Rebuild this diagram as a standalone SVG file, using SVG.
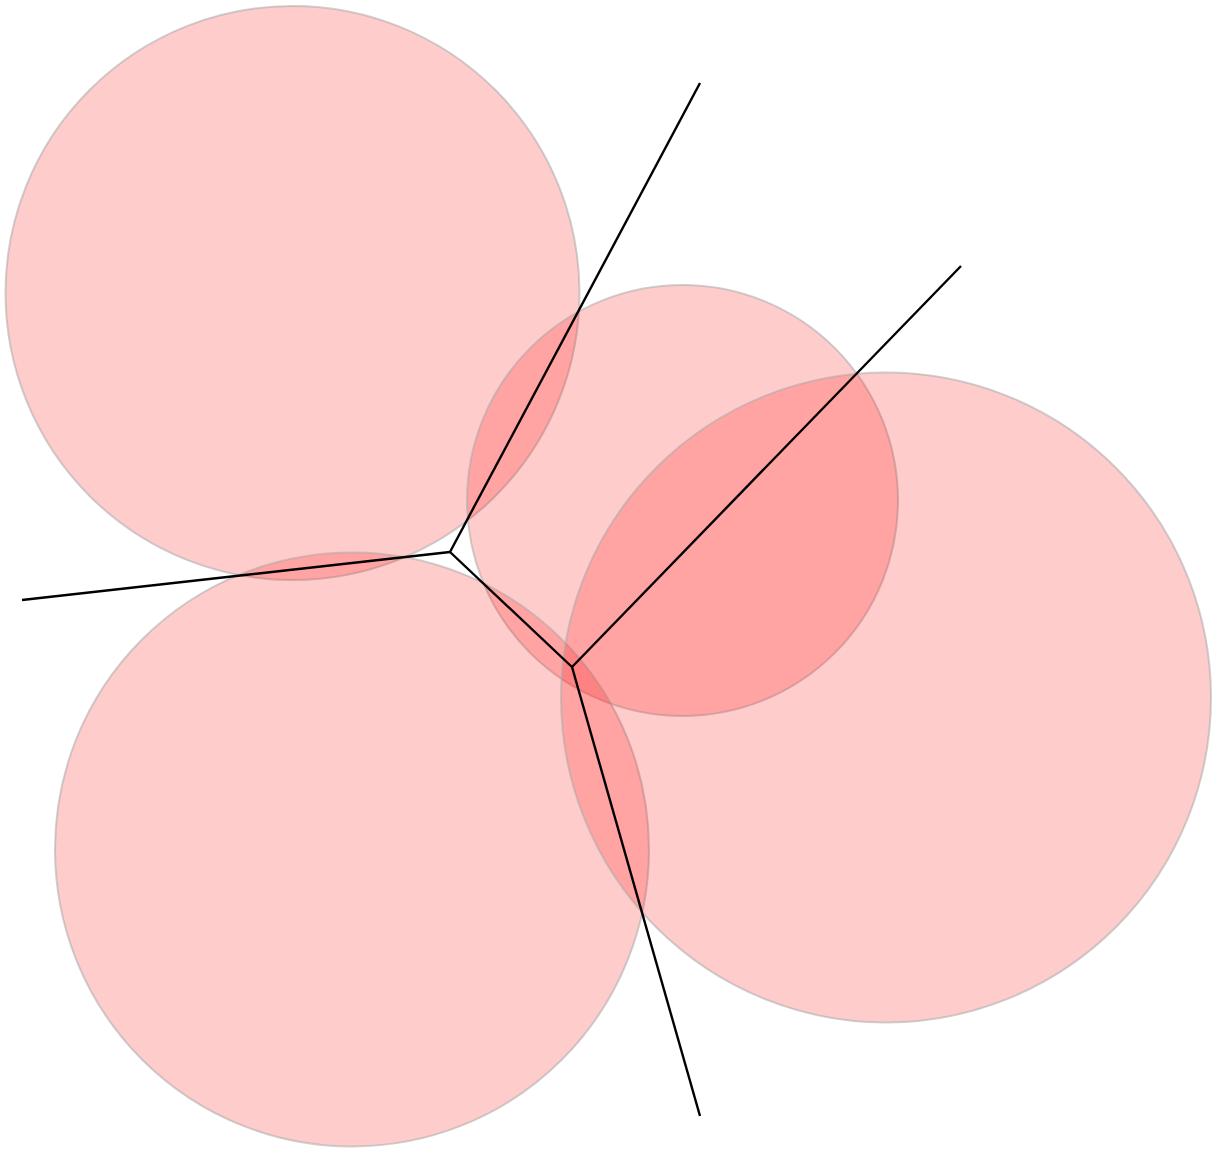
<svg xmlns="http://www.w3.org/2000/svg" width="1215" height="1150" viewBox="0 0 1215 1150">
<style>
.c{fill:#ff0000;fill-opacity:0.2;stroke:#aaa;stroke-opacity:0.55;stroke-width:2}
.e{stroke:#000;stroke-width:2.4;fill:none}
</style>
<rect width="1215" height="1150" fill="#fff"/>
<g id="circle1"><circle class="c" cx="292.5" cy="293" r="287"/></g>
<g id="circle2"><circle class="c" cx="682.5" cy="500.5" r="215.5"/></g>
<g id="circle3"><circle class="c" cx="352" cy="849.5" r="297"/></g>
<g id="circle4"><circle class="c" cx="886" cy="697.5" r="325"/></g>
<g id="edges">
<line class="e" x1="700" y1="83" x2="450" y2="552"/>
<line class="e" x1="22" y1="600" x2="450" y2="552"/>
<line class="e" x1="450" y1="552" x2="572" y2="667"/>
<line class="e" x1="572" y1="667" x2="961" y2="266"/>
<line class="e" x1="572" y1="667" x2="700" y2="1116"/>
</g>
</svg>
